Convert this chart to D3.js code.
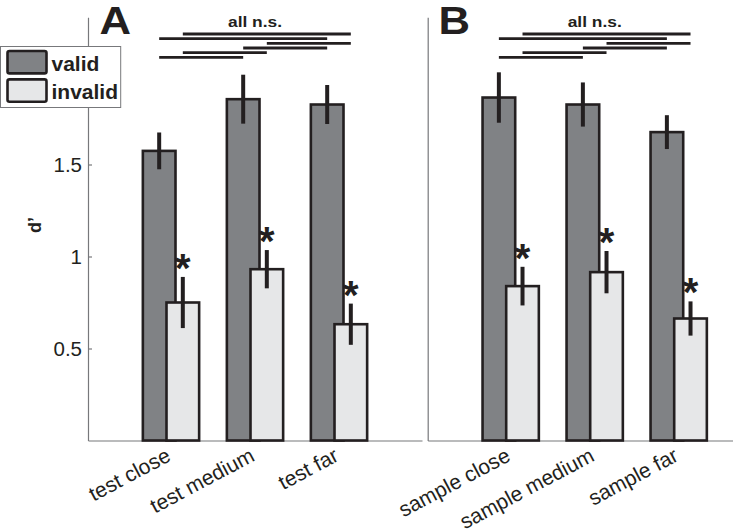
<!DOCTYPE html>
<html>
<head>
<meta charset="utf-8">
<script src="https://cdn.jsdelivr.net/npm/d3@7"></script>
<style>
  body { margin: 0; background: #fff; }
  svg { display: block; font-family: "Liberation Sans", Arial, Helvetica, sans-serif; }
</style>
</head>
<body>
<svg id="chart" width="733" height="532"></svg>
<script>
// ---------------- data ----------------
const catsA = ["test close", "test medium", "test far"];
const catsB = ["sample close", "sample medium", "sample far"];
const seriesNames = ["valid", "invalid"];

const validA = [1.574, 1.855, 1.826];
const validAErr = [0.100, 0.133, 0.106];
const invalidA = [0.750, 0.931, 0.632];
const invalidAErr = [0.139, 0.104, 0.112];

const validB = [1.864, 1.826, 1.676];
const validBErr = [0.137, 0.120, 0.092];
const invalidB = [0.839, 0.915, 0.663];
const invalidBErr = [0.105, 0.115, 0.093];

const yTicks = [0.5, 1, 1.5];
const yLabel = "d\u2019";
const sigText = "all n.s.";
// pairwise comparisons drawn as lines (top to bottom): [series, fromIndex, toIndex]
const comparisons = [
  ["invalid", 0, 2], ["valid", 0, 2], ["invalid", 1, 2],
  ["valid", 1, 2], ["invalid", 0, 1], ["valid", 0, 1]
];
const starText = "*";

// ---------------- styles ----------------
const colValid = "#808285";
const colInvalid = "#e6e7e8";
const ink = "#231f20";
const axisCol = "#77787b";

const svg = d3.select("#chart");

const y = d3.scaleLinear().domain([0, 2.3]).range([440.5, 17.3]);

function panel(opts) {
  const { x0, cats, valid, validErr, invalid, invalidErr, letter, letterX, showTicks } = opts;
  const g = svg.append("g");
  const x = d3.scaleBand().domain(cats).range([x0, x0 + 334]).paddingInner(0.33).paddingOuter(0.653);
  const bw = x.bandwidth() * 0.58;
  const off = { valid: 0, invalid: x.bandwidth() - bw };
  const vals = { valid, invalid };
  const errs = { valid: validErr, invalid: invalidErr };
  const fills = { valid: colValid, invalid: colInvalid };
  const center = (s, i) => x(cats[i]) + off[s] + bw / 2;

  // y axis
  const yAxis = d3.axisLeft(y).tickValues(showTicks ? yTicks : []).tickSizeInner(showTicks ? -4 : 0)
    .tickSizeOuter(0).tickPadding(6).tickFormat(d3.format(""));
  const ya = g.append("g").attr("transform", `translate(${x0},0)`).call(yAxis);
  ya.select(".domain").attr("stroke", axisCol).attr("stroke-width", 1.2);
  ya.selectAll(".tick line").attr("stroke", axisCol).attr("stroke-width", 1.2);
  ya.selectAll(".tick text").attr("font-size", 20.5).attr("fill", ink).attr("font-family", null);

  // x axis
  const xAxis = d3.axisBottom(x).tickSize(0).tickSizeOuter(0);
  const xa = g.append("g").attr("transform", `translate(0,${y(0)})`).call(xAxis);
  xa.select(".domain").attr("stroke", axisCol).attr("stroke-width", 1.2);
  xa.selectAll(".tick text")
    .attr("font-size", 21).attr("fill", ink).attr("font-family", null)
    .attr("y", null).attr("dy", null)
    .attr("text-anchor", "end")
    .attr("transform", "translate(1,19.5) rotate(-28)");

  // bars
  seriesNames.forEach(s => {
    g.append("g").selectAll("rect").data(cats).join("rect")
      .attr("x", (d, i) => x(d) + off[s])
      .attr("y", (d, i) => y(vals[s][i]))
      .attr("width", bw)
      .attr("height", (d, i) => y(0) - y(vals[s][i]))
      .attr("fill", fills[s]).attr("stroke", ink).attr("stroke-width", 2.6);
  });
  // error bars
  seriesNames.forEach(s => {
    g.append("g").selectAll("line").data(cats).join("line")
      .attr("x1", (d, i) => center(s, i)).attr("x2", (d, i) => center(s, i))
      .attr("y1", (d, i) => y(vals[s][i] + errs[s][i]))
      .attr("y2", (d, i) => y(vals[s][i] - errs[s][i]))
      .attr("stroke", ink).attr("stroke-width", 4);
  });
  // asterisks
  g.append("g").selectAll("text").data(cats).join("text")
    .attr("x", (d, i) => center("invalid", i))
    .attr("y", (d, i) => y(invalid[i] + invalidErr[i]) + 5)
    .attr("text-anchor", "middle").attr("font-size", 40).attr("font-weight", "bold").attr("fill", ink)
    .text(starText);

  // comparison lines
  g.append("g").selectAll("line").data(comparisons).join("line")
    .attr("x1", d => center(d[0], d[1]))
    .attr("x2", d => center(d[0], d[2]))
    .attr("y1", (d, k) => 34 + k * 4.66)
    .attr("y2", (d, k) => 34 + k * 4.66)
    .attr("stroke", ink).attr("stroke-width", 2.8);
  g.append("text")
    .attr("transform", `translate(${x(cats[1]) + x.bandwidth() / 2},27.3) scale(1.2,1)`)
    .attr("text-anchor", "middle").attr("font-size", 14.5).attr("font-weight", "bold").attr("fill", ink)
    .text(sigText);

  // panel letter
  g.append("text")
    .attr("transform", `translate(${letterX},34.3) scale(1.15,1)`)
    .attr("font-size", 38).attr("font-weight", "bold").attr("fill", ink)
    .text(letter);
  return g;
}

panel({ x0: 88, cats: catsA, valid: validA, validErr: validAErr, invalid: invalidA, invalidErr: invalidAErr,
        letter: "A", letterX: 99.5, showTicks: true });
panel({ x0: 427.7, cats: catsB, valid: validB, validErr: validBErr, invalid: invalidB, invalidErr: invalidBErr,
        letter: "B", letterX: 438.5, showTicks: false });

// y label
svg.append("text")
  .attr("transform", "translate(41,225) rotate(-90)")
  .attr("text-anchor", "middle").attr("font-size", 18).attr("font-weight", "bold").attr("fill", ink)
  .text(yLabel);

// legend
const leg = svg.append("g");
leg.append("rect").attr("x", 0.5).attr("y", 46.5).attr("width", 120.2).attr("height", 61)
  .attr("fill", "#fff").attr("stroke", axisCol).attr("stroke-width", 1);
const legFill = { valid: colValid, invalid: colInvalid };
seriesNames.forEach((s, k) => {
  leg.append("rect").attr("x", 7.5).attr("y", 51 + k * 28.4).attr("width", 39).attr("height", 22.4)
    .attr("rx", 2).attr("fill", legFill[s]).attr("stroke", ink).attr("stroke-width", 2.6);
  leg.append("text").attr("x", 51.5).attr("y", 70.7 + k * 28.6)
    .attr("font-size", 21).attr("font-weight", "bold").attr("fill", ink).text(s);
});
</script>
</body>
</html>
